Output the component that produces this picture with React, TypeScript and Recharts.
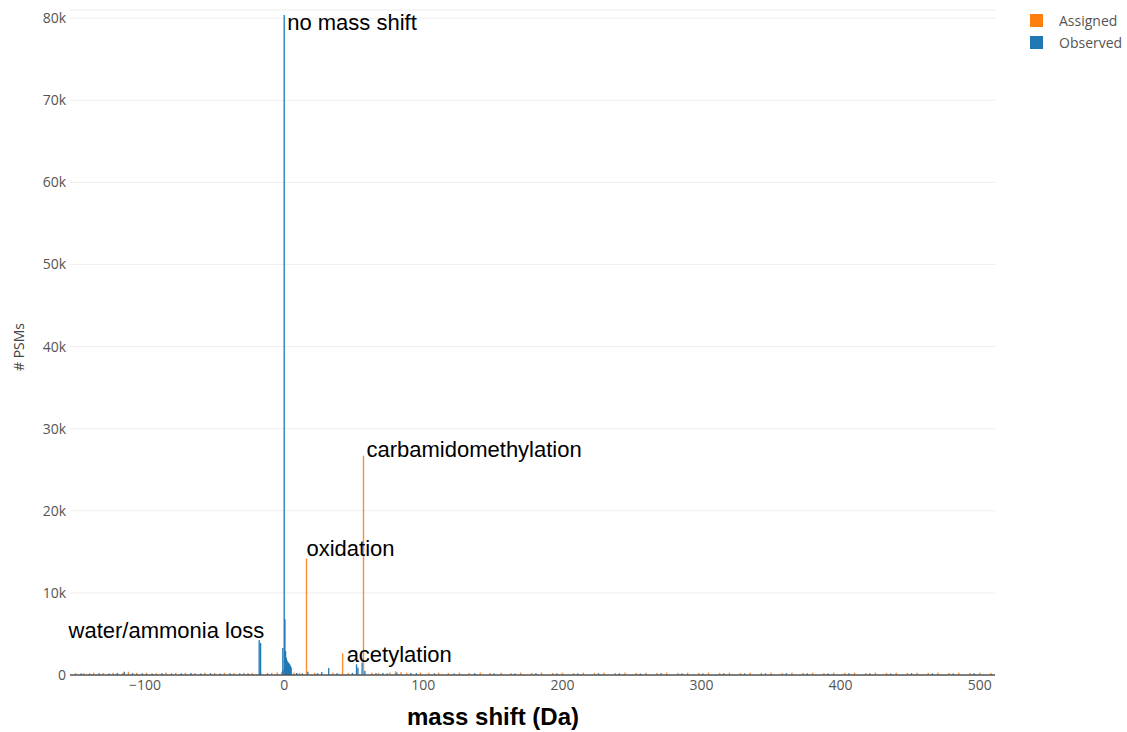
import React from 'react';
import { ComposedChart, Bar, XAxis, YAxis, CartesianGrid, ReferenceDot } from 'recharts';

// [mass shift (Da), # PSMs]
const assignedPeaks: [number, number][] = [
    [-17, 350], [-1, 600], [-0.5, 650], [0.5, 700], [1, 600], [1.5, 450], [2, 350],
    [16, 14200], [42, 2650], [57, 26700], [80, 450], [98, 320],
];

const observedPeaks: [number, number][] = [
    [-18, 4250], [-17, 3900], [-1.5, 400], [-1, 3300], [0, 80400], [0.5, 6800],
    [1, 2900], [1.5, 2100], [2, 1800], [2.5, 1600], [3, 1500], [3.5, 1400],
    [4, 1300], [4.5, 1100], [5, 900], [17, 400], [27, 350], [32, 850],
    [52, 1300], [53, 900], [56, 1500], [58, 500], [71, 250], [81, 300], [91, 250],
];

const assignedNoise: [number, number][] = [
    [-150, 260], [-144, 220], [-137, 290], [-130, 240], [-123, 270], [-116, 250], [-112, 400],
    [-106, 260], [-99, 280], [-92, 240], [-85, 300], [-78, 260], [-71, 270], [-64, 240],
    [-57, 290], [-50, 250], [-43, 280], [-36, 240], [-29, 270], [-23, 260], [-9, 270],
    [-5, 330], [7, 290], [11, 260], [22, 270], [35, 300], [46, 260], [63, 290], [68, 270],
    [76, 300], [84, 360], [88, 290], [104, 270], [111, 300], [118, 250], [126, 290],
    [133, 260], [141, 300], [148, 250], [156, 280], [163, 240], [170, 290], [178, 260],
    [185, 300], [193, 250], [200, 280], [208, 240], [215, 290], [223, 260], [230, 290],
    [238, 250], [245, 300], [253, 260], [260, 280], [268, 240], [275, 290], [283, 260],
    [290, 290], [298, 250], [305, 300], [313, 260], [320, 280], [328, 240], [335, 290],
    [343, 260], [350, 290], [358, 250], [365, 300], [373, 260], [380, 280], [388, 240],
    [395, 290], [403, 260], [410, 290], [418, 250], [425, 300], [433, 260], [440, 280],
    [448, 240], [455, 290], [463, 260], [470, 290], [478, 250], [485, 300], [493, 260],
    [500, 280], [508, 250],
];

const observedNoise: [number, number][] = [
    [-146, 200], [-140, 180], [-133, 220], [-126, 190], [-120, 250], [-115, 400],
    [-109, 220], [-102, 200], [-95, 180], [-88, 230], [-81, 190], [-74, 210], [-67, 250],
    [-60, 190], [-53, 220], [-46, 180], [-39, 230], [-32, 200], [-26, 190], [-12, 200],
    [9, 250], [13, 200], [24, 220], [38, 230], [49, 250], [66, 230], [74, 200],
    [95, 230], [108, 200], [122, 190], [137, 220], [151, 200], [166, 190], [181, 220],
    [196, 200], [211, 190], [226, 220], [241, 200], [256, 190], [271, 220], [286, 200],
    [301, 190], [316, 220], [331, 200], [346, 190], [361, 220], [376, 200], [391, 190],
    [406, 220], [421, 200], [436, 190], [451, 220], [466, 200], [481, 190], [496, 220],
];

const yTicks = [0, 10000, 20000, 30000, 40000, 50000, 60000, 70000, 80000];
const xTicks = [-100, 0, 100, 200, 300, 400, 500];

const annotations = [
    { x: 0, y: 79500, text: 'no mass shift', anchor: 'start', dx: 3 },
    { x: 57, y: 27500, text: 'carbamidomethylation', anchor: 'start', dx: 3 },
    { x: 16, y: 15450, text: 'oxidation', anchor: 'start', dx: 0 },
    { x: 42, y: 2450, text: 'acetylation', anchor: 'start', dx: 4 },
    { x: -18, y: 5480, text: 'water/ammonia loss', anchor: 'end', dx: 5 },
];

const series = [
    { key: 'assigned', name: 'Assigned', color: '#ff7f0e' },
    { key: 'observed', name: 'Observed', color: '#1f77b4' },
];

const buildRows = () => {
    const map = new Map<number, { x: number; assigned?: number; observed?: number }>();
    const add = (list: [number, number][], key: 'assigned' | 'observed') => {
        list.forEach(([x, y]) => {
            const row = map.get(x) ?? { x };
            row[key] = y;
            map.set(x, row);
        });
    };
    add(assignedNoise, 'assigned');
    add(assignedPeaks, 'assigned');
    add(observedNoise, 'observed');
    add(observedPeaks, 'observed');
    return Array.from(map.values()).sort((a, b) => a.x - b.x);
};

const rows = buildRows();

const tickStyle = { fontFamily: '"Open Sans", sans-serif', fontSize: 14, fill: '#555' };

const fmtY = (v: number) => (v === 0 ? '0' : `${v / 1000}k`);
const fmtX = (v: number) => String(v).replace('-', '\u2212');

// thin histogram bar centred on the library's x position
const thinBar = (color: string, w: number) => (p: any) => {
    if (p.height == null || !isFinite(p.height) || p.height <= 0) return <g />;
    return <rect x={p.x + p.width / 2 - w / 2} y={p.y} width={w} height={p.height} fill={color} />;
};

export default function App() {
    return (
        <div style={{ position: 'absolute', left: 0, top: 0, width: 1127, height: 732, background: '#fff' }}>
            <ComposedChart
                width={1127}
                height={732}
                data={rows}
                margin={{ top: 10, right: 132, left: 0, bottom: 0 }}
            >
                <CartesianGrid vertical={false} stroke="#eee" xAxisId="a" />
                <XAxis
                    xAxisId="a"
                    type="number"
                    dataKey="x"
                    domain={[-154, 511]}
                    ticks={xTicks}
                    allowDataOverflow
                    height={57}
                    tickFormatter={fmtX}
                    tick={tickStyle}
                    tickLine={false}
                    tickSize={0}
                    tickMargin={5}
                    axisLine={{ stroke: '#555', strokeWidth: 1.5 }}
                />
                <XAxis xAxisId="o" type="number" dataKey="x" domain={[-154, 511]} allowDataOverflow hide />
                <YAxis
                    type="number"
                    domain={[0, 81000]}
                    ticks={yTicks}
                    allowDataOverflow
                    width={70}
                    tickFormatter={fmtY}
                    tick={tickStyle}
                    tickLine={false}
                    tickSize={0}
                    tickMargin={4}
                    axisLine={false}
                />
                <Bar
                    xAxisId="a"
                    dataKey="assigned"
                    name="Assigned"
                    fill="#ff7f0e"
                    shape={thinBar('#ff8f2e', 1.4)}
                    isAnimationActive={false}
                />
                <Bar
                    xAxisId="o"
                    dataKey="observed"
                    name="Observed"
                    fill="#1f77b4"
                    shape={thinBar('#1f77b4', 1.3)}
                    isAnimationActive={false}
                />
                {annotations.map((a) => (
                    <ReferenceDot
                        key={a.text}
                        xAxisId="a"
                        x={a.x}
                        y={a.y}
                        r={0}
                        shape={(p: any) => (
                            <text
                                x={p.cx + a.dx}
                                y={p.cy}
                                textAnchor={a.anchor}
                                dominantBaseline="central"
                                fontFamily='"Liberation Sans", Arial, sans-serif'
                                fontSize={22}
                                fill="#000"
                            >
                                {a.text}
                            </text>
                        )}
                    />
                ))}
            </ComposedChart>
            <div
                style={{
                    position: 'absolute', left: 493, top: 703, transform: 'translateX(-50%)',
                    fontFamily: '"Liberation Sans", Arial, sans-serif', fontWeight: 'bold', fontSize: 24,
                    color: '#000', whiteSpace: 'nowrap', lineHeight: '28px',
                }}
            >
                mass shift (Da)
            </div>
            <div
                style={{
                    position: 'absolute', left: 18, top: 347, transform: 'translate(-50%, -50%) rotate(-90deg)',
                    fontFamily: '"Open Sans", sans-serif', fontSize: 14, color: '#444', whiteSpace: 'nowrap',
                }}
            >
                # PSMs
            </div>
            <div style={{ position: 'absolute', left: 1030, top: 9 }}>
                {series.map((s) => (
                    <div key={s.key} style={{ display: 'flex', alignItems: 'center', height: 22 }}>
                        <span style={{ width: 13, height: 13, background: s.color, display: 'inline-block' }} />
                        <span
                            style={{
                                marginLeft: 16, fontFamily: '"Open Sans", sans-serif', fontSize: 14, color: '#555',
                            }}
                        >
                            {s.name}
                        </span>
                    </div>
                ))}
            </div>
        </div>
    );
}
